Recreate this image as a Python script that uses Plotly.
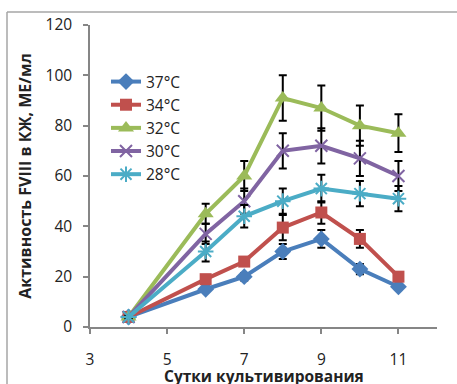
import plotly.graph_objects as go

days = [4, 6, 7, 8, 9, 10, 11]
labels = ["37°C", "34°C", "32°C", "30°C", "28°C"]
v37 = [4, 15, 20, 30, 35, 23, 16]
e37 = [0.5, 1, 1.5, 3, 3.5, 2, 1]
v34 = [4, 19, 26, 39.5, 45.5, 35, 20]
e34 = [0.5, 1, 1.5, 5, 4.5, 3.5, 1]
v32 = [4, 45, 60, 91, 87, 80, 77]
e32 = [0.5, 4, 6, 9, 9, 8, 7.5]
v30 = [4, 37, 50, 70, 72, 67, 60]
e30 = [0.5, 4, 5, 7, 7, 7, 6]
v28 = [4, 30, 44, 50, 55, 53, 51]
e28 = [0.5, 4, 4.5, 5, 5.5, 5, 5]
x_ticks = [3, 5, 7, 9, 11]
y_ticks = [0, 20, 40, 60, 80, 100, 120]
x_title = "Сутки культивирования"
y_title = "Активность FVIII в КЖ, МЕ/мл"

series = [
    (labels[0], v37, e37, "#4A7EBB", "diamond", 13),
    (labels[1], v34, e34, "#C0504D", "square", 12),
    (labels[2], v32, e32, "#9BBB59", "triangle-up", 14),
    (labels[3], v30, e30, "#8064A2", "x-thin", 12),
    (labels[4], v28, e28, "#4BACC6", "asterisk", 13),
]

FONT = "Open Sans"
fig = go.Figure()
for name, vals, errs, col, sym, sz in series:
    thin = sym in ("x-thin", "asterisk")
    fig.add_trace(go.Scatter(
        x=days, y=vals, name=name, mode="lines+markers",
        line=dict(color=col, width=4),
        marker=dict(symbol=sym, size=sz, color=col,
                    line=dict(color=col, width=2 if thin else 0)),
        error_y=dict(type="data", array=errs, visible=True,
                     color="black", thickness=2, width=4),
    ))

W, H = 457, 384
L, R, T, B = 90, 20, 25, 57
pw, ph = W - L - R, H - T - B

def px_x(p):
    return (p - L) / pw

def px_y(p):
    return (H - B - p) / ph

border = "#A6A6A6"
fig.add_shape(type="line", xref="paper", yref="paper",
              x0=px_x(7), x1=px_x(7), y0=px_y(12), y1=px_y(400),
              line=dict(color=border, width=1.5))
fig.add_shape(type="line", xref="paper", yref="paper",
              x0=px_x(7), x1=px_x(470), y0=px_y(12), y1=px_y(12),
              line=dict(color=border, width=1.5))

fig.add_annotation(text="<b>" + x_title + "</b>", xref="paper", yref="paper",
                   x=0.5, y=px_y(363), xanchor="center", yanchor="top",
                   showarrow=False, font=dict(size=15.5, family=FONT, color="#222222"))

axis_col = "#868686"
fig.update_layout(
    width=W, height=H,
    margin=dict(l=L, r=R, t=T, b=B, pad=0, autoexpand=False),
    paper_bgcolor="white", plot_bgcolor="white",
    font=dict(family=FONT, size=15.5, color="#222222"),
    showlegend=True,
    legend=dict(x=px_x(106), y=px_y(65), xanchor="left", yanchor="top",
                bgcolor="rgba(0,0,0,0)", font=dict(size=15.5, family=FONT),
                tracegroupgap=0, itemwidth=30),
    xaxis=dict(range=[3, 12], tickvals=x_ticks, ticktext=[str(t) for t in x_ticks],
               showgrid=False, zeroline=False, showline=True, linecolor=axis_col,
               linewidth=1.5, ticks="outside", ticklen=5, tickcolor=axis_col,
               tickwidth=1.5, ticklabelstandoff=13, automargin=False),
    yaxis=dict(range=[0, 120], tickvals=y_ticks, ticktext=[str(t) for t in y_ticks],
               showgrid=False, zeroline=False, showline=True, linecolor=axis_col,
               linewidth=1.5, ticks="outside", ticklen=5, tickcolor=axis_col,
               tickwidth=1.5, ticklabelstandoff=8, automargin=False,
               title=dict(text="<b>" + y_title + "</b>", standoff=10,
                          font=dict(size=16, family=FONT))),
)

fig.write_html("out.html", config={"displayModeBar": False},
               post_script="document.body.style.margin='0px';document.body.style.overflow='hidden';")
